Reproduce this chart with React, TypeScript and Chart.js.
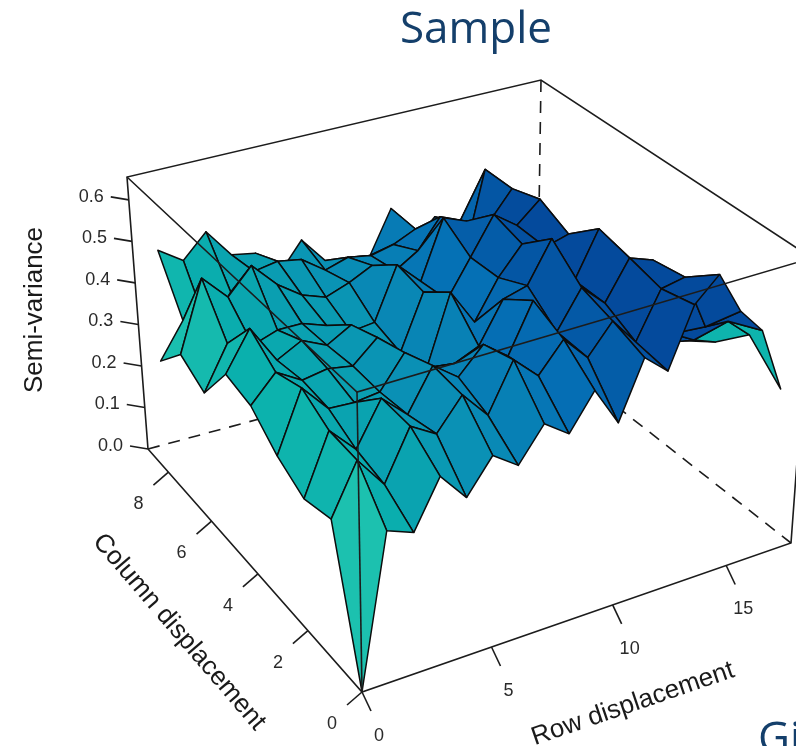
import { useEffect, useRef } from "react";
import { Chart, registerables } from "chart.js";
Chart.register(...registerables);

const titleText = "Sample";
const cutoffText = "Gi";
const zAxisLabel = "Semi-variance";
const colAxisLabel = "Column displacement";
const rowAxisLabel = "Row displacement";
const zTicks = [0.0, 0.1, 0.2, 0.3, 0.4, 0.5, 0.6];
const colTicks = [0, 2, 4, 6, 8];
const rowTicks = [0, 5, 10, 15];
const rowMax = 18;
const colMax = 9;
const zMax = 0.655;

// semi-variance: one line per row displacement, columns 0..9
const r00 = [0, .313, .295, .33, .385, .40, .30, .335, .265, null];
const r01 = [.333, .425, .43, .467, .445, .49, .40, .50, .347, .464];
const r02 = [.31, .353, .37, .403, .41, .40, .38, .44, .31, .425];
const r03 = [.415, .465, .468, .40, .42, .43, .40, .50, .385, .48];
const r04 = [.35, .43, .414, .407, .41, .403, .40, .44, .42, .41];
const r05 = [.425, .50, .508, .481, .46, .435, .38, .40, .43, .40];
const r06 = [.385, .437, .465, .43, .37, .36, .35, .38, .42, .338];
const r07 = [.46, .545, .523, .423, .358, .339, .357, .40, .38, .404];
const r08 = [.42, .492, .48, .447, .518, .466, .479, .427, .397, .34];
const r09 = [.50, .558, .591, .54, .433, .433, .425, .40, .387, .334];
const r10 = [.41, .50, .503, .556, .522, .518, .562, .434, .40, .325];
const r11 = [.54, .567, .589, .65, .586, .605, .54, .502, .424, .427];
const r12 = [.493, .503, .538, .537, .564, .565, .524, .38, .38, .33];
const r13 = [.627, .609, .627, .643, .58, .613, .59, .589, .413, .38];
const r14 = [.68, .62, .607, .36, .35, .35, .34, .33, .33, .33];
const r15 = [.58, .49, .42, .35, .34, .33, .33, .32, .32, .32];
const r16 = [.52, .487, .39, .33, .33, .32, .32, .31, .31, .30];
const r17 = [.37, .44, .37, .32, .30, .30, .30, .30, .30, .30];
const surface = [r00, r01, r02, r03, r04, r05, r06, r07, r08, r09, r10, r11, r12, r13, r14, r15, r16, r17];

type Pt = { x: number; y: number };
const homography = (p00: number[], p10: number[], p01: number[], p11: number[]) => {
  const dx1 = p10[0] - p11[0], dy1 = p10[1] - p11[1], dx2 = p01[0] - p11[0], dy2 = p01[1] - p11[1];
  const sx = p00[0] - p10[0] + p11[0] - p01[0], sy = p00[1] - p10[1] + p11[1] - p01[1];
  const det = dx1 * dy2 - dx2 * dy1;
  const g = (sx * dy2 - dx2 * sy) / det, h = (dx1 * sy - sx * dy1) / det;
  return (u: number, v: number): Pt => {
    const d = 1 + g * u + h * v;
    return {
      x: ((p10[0] - p00[0] + g * p10[0]) * u + (p01[0] - p00[0] + h * p01[0]) * v + p00[0]) / d,
      y: ((p10[1] - p00[1] + g * p10[1]) * u + (p01[1] - p00[1] + h * p01[1]) * v + p00[1]) / d,
    };
  };
};
const floorMap = homography([362, 692], [791, 543], [148, 449], [537, 344]);
const ceilMap = homography([357, 392], [812, 258], [127, 177], [541, 80]);
const project = (r: number, c: number, z: number): Pt => {
  const a = floorMap(r / rowMax, c / colMax), b = ceilMap(r / rowMax, c / colMax), t = z / zMax;
  return { x: a.x + (b.x - a.x) * t, y: a.y + (b.y - a.y) * t };
};

const stops = [[47, 211, 177], [10, 176, 173], [10, 144, 181], [5, 112, 181], [4, 74, 156]];
const ramp = (t: number) => {
  const k = Math.max(0, Math.min(0.999, t)) * (stops.length - 1), i = Math.floor(k), f = k - i;
  const m = stops[i].map((s, j) => Math.round(s + (stops[i + 1][j] - s) * f));
  return `rgb(${m[0]},${m[1]},${m[2]})`;
};

const line = (pts: Pt[], dash: number[] = [], width = 1.6) => ({
  data: pts, showLine: true, fill: false, borderColor: "#1c1c1c", borderWidth: width,
  borderDash: dash, pointRadius: 0, tension: 0,
});

const buildDatasets = () => {
  const facets: any[] = [];
  for (let r = 0; r < surface.length - 1; r++) {
    for (let c = 0; c < surface[r].length - 1; c++) {
      const zs = [surface[r][c], surface[r + 1][c], surface[r + 1][c + 1], surface[r][c + 1]];
      if (zs.some((z) => z === null)) continue;
      const rc = [[r, c], [r + 1, c], [r + 1, c + 1], [r, c + 1]];
      const pts = rc.map(([a, b], i) => project(a, b, zs[i] as number));
      let area = 0;
      pts.forEach((p, i) => { const q = pts[(i + 1) % 4]; area += p.x * q.y - q.x * p.y; });
      const mean = (zs as number[]).reduce((s, z) => s + z, 0) / 4;
      let t = 1.05 * (mean - 0.17) + 0.05 * (r + 0.5) - 0.012 * c;
      if (area > 0 && r >= 16) t = 0.22;
      facets.push({
        data: [...pts, pts[0]], showLine: true, fill: "shape", backgroundColor: ramp(t),
        borderColor: "#0c0c0c", borderWidth: 1.5, borderJoinStyle: "round", pointRadius: 0, tension: 0,
      });
    }
  }
  const front = [
    line([project(0, colMax, zMax), project(0, 0, zMax), project(rowMax, 0, zMax)]),
    line([project(0, 0, 0), project(0, 0, zMax)]),
  ];
  const axes: any[] = [
    line([project(0, colMax, 0), project(0, 0, 0), project(rowMax, 0, 0), project(rowMax, 0, zMax)]),
    line([project(0, colMax, 0), project(0, colMax, zMax), project(rowMax, colMax, zMax), project(rowMax, 0, zMax)]),
  ];
  zTicks.forEach((z) => { const p = project(0, colMax, z); axes.push(line([p, { x: p.x - 18, y: p.y - 3 }])); });
  rowTicks.forEach((r) => { const p = project(r, 0, 0); axes.push(line([p, { x: p.x + 9, y: p.y + 19 }])); });
  colTicks.forEach((c) => { const p = project(0, c, 0); axes.push(line([p, { x: p.x - 15, y: p.y + 13 }])); });
  const back = [
    line([project(0, colMax, 0), project(rowMax, colMax, 0), project(rowMax, 0, 0)], [12, 9]),
    line([project(rowMax, colMax, 0), project(rowMax, colMax, zMax)], [12, 9]),
  ];
  // first dataset is painted last; the surface is listed near to far
  return [...front, ...facets, ...axes, ...back];
};

const textPlugin = {
  id: "sceneText",
  afterDraw(chart: any) {
    const ctx = chart.ctx;
    const put = (s: string, x: number, y: number, font: string, color: string, rot = 0, align: CanvasTextAlign = "center") => {
      ctx.save();
      ctx.translate(x, y);
      ctx.rotate(rot);
      ctx.font = font;
      ctx.fillStyle = color;
      ctx.textAlign = align;
      ctx.textBaseline = "middle";
      ctx.fillText(s, 0, 0);
      ctx.restore();
    };
    const small = "18px 'Liberation Sans'";
    const grey = "#2a2a2a";
    zTicks.forEach((z) => { const p = project(0, colMax, z); put(z.toFixed(1), p.x - 25, p.y - 3, small, grey, 0, "right"); });
    rowTicks.forEach((r) => { const p = project(r, 0, 0); put(String(r), p.x + 17, p.y + 44, small, grey); });
    colTicks.forEach((c) => { const p = project(0, c, 0); put(String(c), p.x - 30, p.y + 32, small, grey); });
    const big = "26px 'Liberation Sans'";
    put(zAxisLabel, 35, 310, big, "#1a1a1a", -Math.PI / 2);
    put(colAxisLabel, 179, 632, big, "#1a1a1a", 0.86);
    put(rowAxisLabel, 633, 704, big, "#1a1a1a", -0.33);
    const brand = "44px 'Open Sans'";
    put(titleText, 476, 30, brand, "#143f6b");
    put(cutoffText, 758, 740, brand, "#143f6b", 0, "left");
  },
};

export default function App() {
  const ref = useRef<HTMLCanvasElement>(null);
  useEffect(() => {
    document.body.style.margin = "0";
    const chart = new Chart(ref.current as HTMLCanvasElement, {
      type: "scatter",
      data: { datasets: buildDatasets() as any },
      options: {
        responsive: false,
        animation: false,
        layout: { padding: 0 },
        plugins: { legend: { display: false }, tooltip: { enabled: false }, title: { display: false } },
        scales: {
          x: { type: "linear", min: 0, max: 796, display: false },
          y: { type: "linear", min: 0, max: 746, reverse: true, display: false },
        },
      },
      plugins: [textPlugin],
    });
    return () => chart.destroy();
  }, []);
  return <canvas ref={ref} width={796} height={746} style={{ display: "block", width: 796, height: 746 }} />;
}
